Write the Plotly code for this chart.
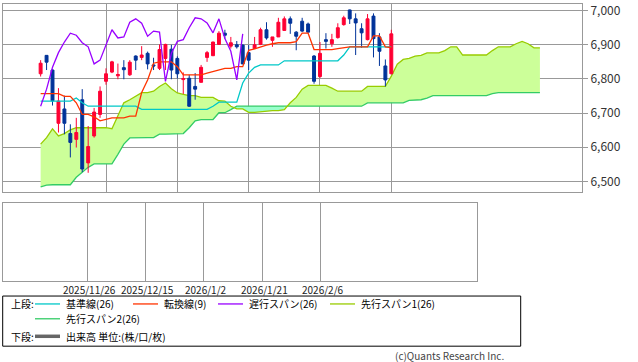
import plotly.graph_objects as go

# ---------------- data ----------------
dates = ["2025/11/11", "2025/11/12", "2025/11/13", "2025/11/14", "2025/11/17", "2025/11/18",
         "2025/11/19", "2025/11/20", "2025/11/21", "2025/11/24", "2025/11/25", "2025/11/26",
         "2025/11/28", "2025/12/1", "2025/12/2", "2025/12/3", "2025/12/4", "2025/12/5",
         "2025/12/8", "2025/12/9", "2025/12/10", "2025/12/11", "2025/12/12", "2025/12/15",
         "2025/12/16", "2025/12/17", "2025/12/18", "2025/12/19", "2025/12/22", "2025/12/23",
         "2025/12/24", "2025/12/26", "2025/12/29", "2025/12/30", "2025/12/31", "2026/1/2",
         "2026/1/5", "2026/1/6", "2026/1/7", "2026/1/8", "2026/1/9", "2026/1/12",
         "2026/1/13", "2026/1/14", "2026/1/15", "2026/1/16", "2026/1/20", "2026/1/21",
         "2026/1/22", "2026/1/23", "2026/1/26", "2026/1/27", "2026/1/28", "2026/1/29",
         "2026/1/30", "2026/2/2", "2026/2/3", "2026/2/4", "2026/2/5", "2026/2/6"]

opens = [6815, 6869, 6826, 6670, 6712, 6640, 6623, 6739, 6554, 6633, 6696, 6793,
         6820, 6809, 6833, 6812, 6867, 6863, 6875, 6841, 6831, 6860, 6887, 6860,
         6798, 6802, 6778, 6790, 6863, 6868, 6901, 6934, 6896, 6900, 6899, 6877,
         6889, 6901, 6944, 6913, 6923, 6942, 6976, 6937, 6969, 6961, 6867, 6807,
         6915, 6903, 6921, 6959, 7002, 6976, 6947, 6915, 6984, 6923, 6838, 6815]
highs = [6855, 6870, 6828, 6773, 6751, 6667, 6686, 6770, 6662, 6715, 6778, 6831,
         6853, 6845, 6855, 6855, 6869, 6896, 6880, 6862, 6901, 6903, 6900, 6866,
         6819, 6812, 6817, 6841, 6882, 6909, 6940, 6944, 6923, 6911, 6901, 6899,
         6923, 6950, 6966, 6923, 6979, 6983, 6983, 6940, 6979, 6965, 6870, 6908,
         6934, 6932, 6963, 6985, 7003, 6992, 6963, 6990, 6992, 6934, 6857, 6944]
lows = [6807, 6826, 6722, 6643, 6638, 6570, 6599, 6527, 6525, 6628, 6686, 6783,
        6817, 6799, 6799, 6809, 6826, 6855, 6828, 6826, 6826, 6826, 6799, 6801,
        6756, 6718, 6739, 6790, 6850, 6867, 6900, 6918, 6889, 6889, 6843, 6826,
        6889, 6899, 6915, 6894, 6923, 6942, 6932, 6884, 6937, 6936, 6786, 6802,
        6889, 6894, 6918, 6956, 6961, 6870, 6891, 6913, 6863, 6838, 6778, 6815]
closes = [6846, 6849, 6736, 6735, 6670, 6614, 6643, 6536, 6602, 6703, 6764, 6815,
          6850, 6813, 6827, 6849, 6855, 6870, 6844, 6838, 6886, 6901, 6826, 6815,
          6801, 6720, 6770, 6834, 6877, 6908, 6934, 6928, 6906, 6894, 6844, 6855,
          6900, 6944, 6920, 6923, 6966, 6976, 6963, 6925, 6940, 6937, 6793, 6875,
          6910, 6915, 6950, 6979, 6976, 6964, 6935, 6976, 6918, 6881, 6797, 6932]

# 転換線(9)
tenkan = [6757, 6757, 6757, 6757, 6749, 6749, 6730, 6696, 6696, 6689, 6677, 6681,
          6686, 6686, 6686, 6691, 6691, 6760, 6797, 6846, 6850, 6850, 6850, 6836,
          6812, 6812, 6812, 6812, 6817, 6822, 6826, 6831, 6831, 6836, 6836, 6884,
          6888, 6894, 6899, 6903, 6906, 6906, 6906, 6909, 6934, 6934, 6886, 6886,
          6886, 6886, 6889, 6892, 6894, 6894, 6894, 6894, 6926, 6926, 6894, 6892]
# 基準線(26)
kijun = [6735, 6735, 6735, 6735, 6735, 6735, 6744, 6730, 6720, 6720, 6720, 6720,
         6720, 6720, 6720, 6720, 6720, 6711, 6711, 6711, 6711, 6711, 6711, 6711,
         6711, 6711, 6711, 6711, 6711, 6720, 6732, 6732, 6732, 6732, 6788, 6817,
         6834, 6841, 6841, 6841, 6841, 6853, 6853, 6853, 6853, 6853, 6853, 6853,
         6853, 6853, 6853, 6870, 6894, 6894, 6894, 6894, 6894, 6894, 6894, 6894]
# 先行スパン1(26) (includes 25 future sessions)
span_a = [6609, 6628, 6654, 6633, 6640, 6651, 6657, 6657, 6657, 6657, 6657, 6657,
          6654, 6691, 6730, 6739, 6749, 6760, 6760, 6764, 6778, 6788, 6771, 6759,
          6755, 6751, 6751, 6746, 6746, 6746, 6736, 6735, 6720, 6712, 6712, 6702,
          6702, 6704, 6707, 6707, 6707, 6710, 6730, 6746, 6770, 6781, 6781, 6781,
          6781, 6773, 6764, 6764, 6764, 6764, 6764, 6778, 6778, 6778, 6778, 6808,
          6843, 6857, 6860, 6867, 6869, 6876, 6876, 6876, 6883, 6894, 6894, 6870,
          6870, 6870, 6870, 6870, 6883, 6894, 6894, 6894, 6903, 6910, 6903, 6891, 6891]
# 先行スパン2(26)
span_b = [6484, 6489, 6490, 6490, 6490, 6490, 6512, 6527, 6541, 6551, 6551, 6551,
          6551, 6579, 6609, 6627, 6628, 6628, 6628, 6628, 6638, 6638, 6638, 6638,
          6640, 6657, 6677, 6681, 6681, 6681, 6701, 6701, 6710, 6720, 6720, 6720,
          6720, 6720, 6720, 6720, 6720, 6720, 6720, 6720, 6720, 6720, 6720, 6720,
          6720, 6720, 6720, 6720, 6720, 6720, 6720, 6730, 6730, 6730, 6730, 6730,
          6730, 6730, 6737, 6739, 6739, 6744, 6751, 6751, 6751, 6751, 6751, 6751,
          6751, 6751, 6751, 6751, 6757, 6760, 6760, 6760, 6760, 6760, 6760, 6760, 6760]

tick_dates = ["2025/11/26", "2025/12/15", "2026/1/2", "2026/1/21", "2026/2/6"]
y_ticks = [6500, 6600, 6700, 6800, 6900, 7000]
y_tick_text = ["6,500", "6,600", "6,700", "6,800", "6,900", "7,000"]
chikou_shift = 25

# ---------------- styling ----------------
C_UP, C_DOWN = "#FF0033", "#003399"
C_TENKAN, C_KIJUN, C_CHIKOU = "#FF3300", "#00C8C8", "#9900FF"
C_A, C_B = "#99CC00", "#33CC66"
C_CLOUD, C_CLOUD_REV = "#CCFF99", "#99FFCC"
GRID = "#999999"
FONT = "Noto Sans CJK JP"
W, H = 638, 362

pos = list(range(len(dates)))
span_pos = list(range(len(span_a)))
tick_pos = [dates.index(d) for d in tick_dates]
x_range = [-6.33, 91.08]
y_range = [6467.6, 7018]

fig = go.Figure()

# cloud fills (main axes, beneath candles)
rev_start, rev_end = 32, 41
segments = [(0, rev_start, C_CLOUD), (rev_start, rev_end, C_CLOUD_REV), (rev_end, len(span_a) - 1, C_CLOUD)]
for s, e, col in segments:
    xs = span_pos[s:e + 1]
    fig.add_trace(go.Scatter(x=xs, y=span_b[s:e + 1], mode="lines", line=dict(width=0, color=col),
                             showlegend=False, hoverinfo="skip", xaxis="x", yaxis="y"))
    fig.add_trace(go.Scatter(x=xs, y=span_a[s:e + 1], mode="lines", line=dict(width=0, color=col),
                             fill="tonexty", fillcolor=col, showlegend=False, hoverinfo="skip",
                             xaxis="x", yaxis="y"))
fig.add_trace(go.Scatter(x=span_pos, y=span_b, mode="lines", line=dict(color=C_B, width=1.3),
                         showlegend=False, xaxis="x", yaxis="y"))
fig.add_trace(go.Scatter(x=span_pos, y=span_a, mode="lines", line=dict(color=C_A, width=1.3),
                         showlegend=False, xaxis="x", yaxis="y"))

# candles (overlay axes)
fig.add_trace(go.Candlestick(
    x=pos, open=opens, high=highs, low=lows, close=closes,
    increasing=dict(line=dict(color=C_UP, width=1), fillcolor=C_UP),
    decreasing=dict(line=dict(color=C_DOWN, width=1), fillcolor=C_DOWN),
    whiskerwidth=0, showlegend=False, xaxis="x3", yaxis="y3"))

# lines
fig.add_trace(go.Scatter(x=pos, y=kijun, mode="lines", line=dict(color=C_KIJUN, width=1.3),
                         showlegend=False, xaxis="x3", yaxis="y3"))
fig.add_trace(go.Scatter(x=pos, y=tenkan, mode="lines", line=dict(color=C_TENKAN, width=1.3),
                         showlegend=False, xaxis="x3", yaxis="y3"))
fig.add_trace(go.Scatter(x=pos[:len(dates) - chikou_shift], y=closes[chikou_shift:], mode="lines",
                         line=dict(color=C_CHIKOU, width=1.3), showlegend=False, xaxis="x3", yaxis="y3"))

# empty volume panel
fig.add_trace(go.Scatter(x=[], y=[], showlegend=False, xaxis="x2", yaxis="y2"))


def px(xp):
    return xp / W


def py(yp):
    return 1 - yp / H


fig.update_layout(
    width=W, height=H, margin=dict(l=0, r=0, t=0, b=0),
    paper_bgcolor="white", plot_bgcolor="white", showlegend=False,
    font=dict(family=FONT, size=10, color="#222222"),
    xaxis=dict(domain=[px(3), px(582)], anchor="y", range=x_range, tickvals=tick_pos,
               showticklabels=False, showgrid=True, gridcolor=GRID, gridwidth=1,
               showline=True, linecolor=GRID, mirror=True, zeroline=False, ticks="",
               rangeslider=dict(visible=False)),
    yaxis=dict(domain=[py(190.5), py(0.5)], anchor="x", range=y_range, side="right",
               tickvals=y_ticks, ticktext=y_tick_text, ticks="outside", ticklen=5, tickcolor=GRID,
               showgrid=True, gridcolor=GRID, showline=True, linecolor=GRID, mirror=True,
               zeroline=False, ticklabeloverflow="allow",
               tickfont=dict(size=12, color="#333333", family=FONT)),
    xaxis3=dict(overlaying="x", range=x_range, visible=False, rangeslider=dict(visible=False)),
    yaxis3=dict(overlaying="y", range=y_range, visible=False),
    xaxis2=dict(domain=[px(2.7), px(477)], anchor="y2", range=x_range, tickvals=tick_pos,
                showticklabels=False, showgrid=True, gridcolor=GRID, showline=True, linecolor=GRID,
                mirror=True, zeroline=False, ticks="", rangeslider=dict(visible=False)),
    yaxis2=dict(domain=[py(280.3), py(201.3)], anchor="x2", range=[0, 1], showticklabels=False,
                showgrid=False, showline=True, linecolor=GRID, mirror=True, zeroline=False, ticks=""),
)

annotations = []
# date labels under the lower panel, placed on its x axis
for tp, label in zip(tick_pos, tick_dates):
    annotations.append(dict(text=label, xref="x2", yref="paper", x=tp, y=py(288.3), xshift=2,
                            xanchor="center", yanchor="middle", showarrow=False,
                            font=dict(size=10, color="#222222", family=FONT)))

# legend box
shapes = [dict(type="rect", xref="paper", yref="paper", x0=px(2.7), x1=px(520.7), y0=py(346), y1=py(295.3),
               line=dict(color="#000000", width=1), fillcolor="rgba(0,0,0,0)")]
legend_items = [
    (35, 303.3, C_KIJUN, 1.3, "基準線(26)"),
    (133, 303.3, C_TENKAN, 1.3, "転換線(9)"),
    (218, 303.3, C_CHIKOU, 1.3, "遅行スパン(26)"),
    (330, 303.3, C_A, 1.3, "先行スパン1(26)"),
    (35, 318.3, C_B, 1.3, "先行スパン2(26)"),
    (35, 336.0, "#666666", 3.5, "出来高 単位:(株/口/枚)"),
]
for x0, yy, col, lw, label in legend_items:
    shapes.append(dict(type="line", xref="paper", yref="paper", x0=px(x0), x1=px(x0 + 25),
                       y0=py(yy), y1=py(yy), line=dict(color=col, width=lw)))
    annotations.append(dict(text=label, xref="paper", yref="paper", x=px(x0 + 29), y=py(yy),
                            xanchor="left", yanchor="middle", showarrow=False,
                            font=dict(size=10, color="#000000", family=FONT)))
for yy, label in [(303.3, "上段:"), (336.0, "下段:")]:
    annotations.append(dict(text=label, xref="paper", yref="paper", x=px(9), y=py(yy),
                            xanchor="left", yanchor="middle", showarrow=False,
                            font=dict(size=10, color="#000000", family=FONT)))
annotations.append(dict(text="(c)Quants Research Inc.", xref="paper", yref="paper", x=px(506), y=py(355.5),
                        xanchor="right", yanchor="middle", showarrow=False,
                        font=dict(size=10, color="#444444", family=FONT)))
fig.update_layout(shapes=shapes, annotations=annotations)

fig.write_html("out.html", config={"displayModeBar": False},
               post_script="document.body.style.margin='0px';document.body.style.overflow='hidden';")
